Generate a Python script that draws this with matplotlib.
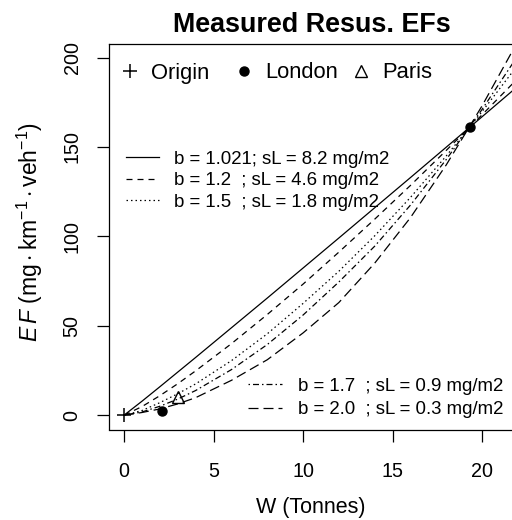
import matplotlib
matplotlib.use("Agg")
import matplotlib.pyplot as plt
from matplotlib.lines import Line2D

plt.rcParams['font.family'] = ['Liberation Sans', 'DejaVu Sans']
plt.rcParams['mathtext.fontset'] = 'custom'
plt.rcParams['mathtext.rm'] = 'Liberation Sans'
plt.rcParams['mathtext.it'] = 'Liberation Sans:italic'
plt.rcParams['lines.scale_dashes'] = False

# ---- data ----
W = [0, 1, 2, 3, 4, 6, 8, 10, 12, 14, 16, 18, 20, 22]
EF_b1021 = [0, 7.8, 15.9, 24.1, 32.3, 48.9, 65.5, 82.3, 99.1, 116.0, 132.9, 149.9, 166.9, 184.0]
EF_b12 = [0, 4.8, 10.9, 17.6, 24.8, 40.0, 56.3, 73.3, 91.2, 109.6, 128.5, 148.1, 168.0, 188.4]
EF_b15 = [0, 2.6, 7.0, 12.0, 17.5, 30.5, 45.5, 62.5, 80.5, 100.3, 121.8, 145.0, 169.8, 195.9]
EF_b17 = [0, 1.8, 5.0, 9.0, 13.8, 25.5, 39.5, 56.0, 74.5, 94.5, 117.5, 143.0, 171.0, 201.1]
EF_b20 = [0, 1.5, 3.5, 6.3, 9.8, 19.5, 31.0, 46.0, 63.0, 85.0, 110.5, 140.0, 173.0, 209.2]

curve_labels = ["b = 1.021; sL = 8.2 mg/m2",
                "b = 1.2  ; sL = 4.6 mg/m2",
                "b = 1.5  ; sL = 1.8 mg/m2",
                "b = 1.7  ; sL = 0.9 mg/m2",
                "b = 2.0  ; sL = 0.3 mg/m2"]

origin_W, origin_EF = [0.0], [0.0]
london_W, london_EF = [2.1, 19.3], [2.5, 161.0]
paris_W, paris_EF = [3.0], [10.0]

xticks = [0, 5, 10, 15, 20]
yticks = [0, 50, 100, 150, 200]

# ---- figure ----
FW, FH = 512, 520
fig = plt.figure(figsize=(FW / 100, FH / 100), dpi=100)
L, R, T, B = 109, 515, 44, 429.5
ax = fig.add_axes([L / FW, 1 - B / FH, (R - L) / FW, (B - T) / FH])

lw = 0.9
px = 0.72
styles = [
    '-',
    (0, (6 * px, 5 * px)),
    (0, (1.5 * px, 3 * px)),
    (0, (1.5 * px, 3 * px, 6 * px, 3 * px)),
    (0, (10 * px, 5 * px)),
]
series = [EF_b1021, EF_b12, EF_b15, EF_b17, EF_b20]
handles = []
for ys, ls, lab in zip(series, styles, curve_labels):
    h, = ax.plot(W, ys, color='black', lw=lw, linestyle=ls, label=lab)
    handles.append(h)

plus_kw = dict(marker='+', ms=9.5, mew=1.1, color='black', ls='none')
dot_kw = dict(marker='o', ms=6.5, color='black', ls='none')
tri_kw = dict(marker='^', ms=8.5, mfc='none', mec='black', mew=1.0, ls='none')

ax.plot(origin_W, origin_EF, clip_on=False, **plus_kw)
ax.plot(london_W, london_EF, **dot_kw)
ax.plot(paris_W, paris_EF, **tri_kw)

ax.set_xlim(-0.84, 21.84)
ax.set_ylim(-8.0, 207.6)
ax.set_xticks(xticks)
ax.set_yticks(yticks)
ax.tick_params(axis='both', direction='out', length=8.6, width=0.9, labelsize=14.2)
ax.tick_params(axis='x', pad=14.5)
ax.tick_params(axis='y', pad=18.0)
for t in ax.get_yticklabels():
    t.set_rotation(90)
    t.set_va('center')
    t.set_ha('center')
for sp in ax.spines.values():
    sp.set_linewidth(0.9)

ax.set_xlabel("W (Tonnes)", fontsize=15.5)
ax.xaxis.label.set_va('center')
ax.xaxis.set_label_coords(311 / FW, 1 - 508 / FH, transform=fig.transFigure)
ax.set_ylabel(r'$\mathit{E\,F}\ (\mathrm{mg\cdot km^{-1}\cdot veh^{-1}})$', fontsize=16.5)
ax.yaxis.label.set_va('center')
ax.yaxis.set_label_coords(30 / FW, 1 - 232 / FH, transform=fig.transFigure)

fig.text(312 / FW, 1 - 25 / FH, "Measured Resus. EFs", ha='center', va='center',
         fontsize=19.4, fontweight='bold')

# ---- legends ----
def fig_anchor(x, y):
    return (x / FW, 1 - y / FH)

pt_specs = [
    (Line2D([], [], **plus_kw), "Origin", 130),
    (Line2D([], [], **dot_kw), "London", 244),
    (Line2D([], [], **tri_kw), "Paris", 361),
]
fs_top = 15.8
em_top = fs_top * 100 / 72
for hnd, txt, xc in pt_specs:
    hl = 1.0
    x0 = xc - hl / 2 * em_top
    lg = ax.legend([hnd], [txt], loc='center left', bbox_to_anchor=fig_anchor(x0, 73),
                   bbox_transform=fig.transFigure, frameon=False, fontsize=fs_top,
                   handlelength=hl, handletextpad=0.45, borderpad=0, borderaxespad=0)
    ax.add_artist(lg)

fs_leg = 13.4
em_leg = fs_leg * 100 / 72
lg1 = ax.legend(handles[:3], curve_labels[:3], loc='upper left',
                bbox_to_anchor=fig_anchor(126, 160 - 0.5 * em_leg), bbox_transform=fig.transFigure,
                frameon=False, fontsize=fs_leg, handlelength=33 / em_leg,
                handletextpad=15 / em_leg, labelspacing=(23 - em_leg) / em_leg,
                borderpad=0, borderaxespad=0)
ax.add_artist(lg1)
lg2 = ax.legend(handles[3:], curve_labels[3:], loc='upper left',
                bbox_to_anchor=fig_anchor(248, 387 - 0.5 * em_leg), bbox_transform=fig.transFigure,
                frameon=False, fontsize=fs_leg, handlelength=34 / em_leg,
                handletextpad=16 / em_leg, labelspacing=(25 - em_leg) / em_leg,
                borderpad=0, borderaxespad=0)

fig.savefig("out.png", dpi=100, facecolor='white')
